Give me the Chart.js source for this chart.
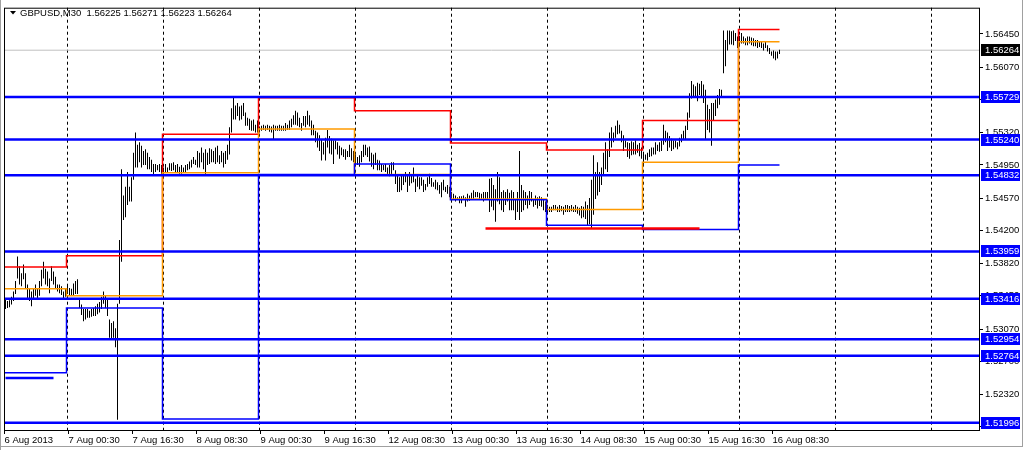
<!DOCTYPE html>
<html><head><meta charset="utf-8">
<script src="https://cdn.jsdelivr.net/npm/chart.js@4.4.1/dist/chart.umd.min.js"></script>
<style>html,body{margin:0;padding:0;background:#fff;}canvas{display:block;}</style>
</head><body>
<canvas id="c" width="1024" height="450"></canvas>
<script>
// ---------- DATA ----------
const symbolTitle = 'GBPUSD,M30';
const lastOHLC = ['1.56225', '1.56271', '1.56223', '1.56264'];
const currentPrice = 1.56264;

// M30 bar highs / lows, one array per trading day (6 Aug .. 16 Aug 2013)
const hi0 = [1.5341,1.5339,1.5340,1.5344,1.5350,1.5362,1.5390,1.5379,1.5371,1.5381,1.5371,1.5358,1.5354,1.5350,1.5354,1.5358,1.5354,1.5362,1.5375,1.5384,1.5376,1.5373,1.5365,1.5379,1.5373,1.5367,1.5358,1.5358,1.5356,1.5350,1.5353];
const lo0 = [1.5330,1.5331,1.5332,1.5335,1.5339,1.5347,1.5365,1.5358,1.5356,1.5364,1.5354,1.5342,1.5339,1.5333,1.5341,1.5345,1.5342,1.5345,1.5356,1.5365,1.5358,1.5356,1.5348,1.5362,1.5358,1.5353,1.5350,1.5348,1.5346,1.5341,1.5344];
const hi1 = [1.5358,1.5354,1.5353,1.5359,1.5362,1.5364,1.5341,1.5335,1.5330,1.5330,1.5330,1.5328,1.5330,1.5331,1.5333,1.5336,1.5338,1.5344,1.5350,1.5345,1.5341,1.5318,1.5314,1.5316,1.5308,1.5336,1.5409,1.5490,1.5460,1.5470,1.5487,1.5470,1.5481,1.5509,1.5532,1.5518,1.5521,1.5517,1.5511,1.5513,1.5509,1.5504,1.5501,1.5496,1.5496,1.5495,1.5496,1.5495];
const lo1 = [1.5347,1.5345,1.5346,1.5345,1.5347,1.5347,1.5331,1.5323,1.5316,1.5318,1.5320,1.5320,1.5321,1.5322,1.5322,1.5324,1.5326,1.5330,1.5336,1.5331,1.5322,1.5297,1.5296,1.5297,1.5286,1.5203,1.5336,1.5384,1.5432,1.5435,1.5449,1.5453,1.5453,1.5478,1.5492,1.5492,1.5498,1.5492,1.5495,1.5495,1.5490,1.5490,1.5487,1.5484,1.5487,1.5489,1.5487,1.5485];
const hi2 = [1.5492,1.5496,1.5492,1.5497,1.5497,1.5498,1.5495,1.5496,1.5493,1.5495,1.5492,1.5495,1.5496,1.5499,1.5501,1.5504,1.5501,1.5511,1.5509,1.5515,1.5509,1.5513,1.5509,1.5514,1.5513,1.5511,1.5515,1.5517,1.5506,1.5511,1.5509,1.5511,1.5518,1.5538,1.5560,1.5572,1.5563,1.5566,1.5562,1.5563,1.5566,1.5555,1.5549,1.5548,1.5546,1.5547,1.5541,1.5546];
const lo2 = [1.5484,1.5487,1.5487,1.5489,1.5488,1.5489,1.5487,1.5487,1.5485,1.5485,1.5487,1.5487,1.5489,1.5490,1.5492,1.5496,1.5495,1.5492,1.5492,1.5498,1.5490,1.5484,1.5495,1.5496,1.5498,1.5498,1.5496,1.5498,1.5496,1.5498,1.5492,1.5496,1.5501,1.5507,1.5532,1.5547,1.5547,1.5551,1.5546,1.5547,1.5551,1.5540,1.5540,1.5535,1.5534,1.5534,1.5532,1.5532];
const hi3 = [1.5539,1.5540,1.5541,1.5540,1.5541,1.5540,1.5539,1.5541,1.5540,1.5540,1.5541,1.5540,1.5540,1.5543,1.5541,1.5546,1.5548,1.5552,1.5557,1.5555,1.5549,1.5543,1.5551,1.5551,1.5557,1.5552,1.5546,1.5541,1.5534,1.5532,1.5529,1.5524,1.5521,1.5526,1.5535,1.5528,1.5525,1.5523,1.5523,1.5521,1.5517,1.5515,1.5513,1.5513,1.5511,1.5518,1.5514,1.5511];
const lo3 = [1.5532,1.5534,1.5535,1.5534,1.5535,1.5533,1.5532,1.5524,1.5534,1.5534,1.5534,1.5534,1.5534,1.5534,1.5535,1.5535,1.5538,1.5541,1.5541,1.5540,1.5538,1.5534,1.5540,1.5538,1.5541,1.5539,1.5529,1.5529,1.5521,1.5515,1.5511,1.5500,1.5507,1.5500,1.5515,1.5508,1.5507,1.5496,1.5513,1.5507,1.5502,1.5506,1.5504,1.5501,1.5504,1.5504,1.5500,1.5498];
const hi4 = [1.5507,1.5504,1.5506,1.5511,1.5518,1.5518,1.5515,1.5516,1.5509,1.5507,1.5509,1.5501,1.5500,1.5496,1.5495,1.5496,1.5492,1.5495,1.5498,1.5498,1.5489,1.5484,1.5481,1.5484,1.5483,1.5487,1.5484,1.5487,1.5484,1.5492,1.5479,1.5483,1.5481,1.5481,1.5478,1.5473,1.5481,1.5485,1.5480,1.5475,1.5478,1.5475,1.5472,1.5475,1.5478,1.5470,1.5472,1.5470];
const lo4 = [1.5496,1.5495,1.5493,1.5498,1.5504,1.5506,1.5504,1.5499,1.5493,1.5490,1.5495,1.5489,1.5489,1.5487,1.5489,1.5487,1.5483,1.5482,1.5484,1.5489,1.5473,1.5464,1.5464,1.5466,1.5472,1.5475,1.5464,1.5471,1.5474,1.5475,1.5464,1.5470,1.5467,1.5471,1.5464,1.5466,1.5470,1.5473,1.5470,1.5470,1.5467,1.5466,1.5462,1.5458,1.5466,1.5464,1.5462,1.5458];
const hi5 = [1.5464,1.5462,1.5460,1.5458,1.5459,1.5459,1.5460,1.5458,1.5462,1.5460,1.5463,1.5466,1.5464,1.5464,1.5463,1.5462,1.5464,1.5464,1.5464,1.5479,1.5480,1.5472,1.5467,1.5487,1.5481,1.5464,1.5466,1.5464,1.5467,1.5463,1.5466,1.5464,1.5456,1.5464,1.5511,1.5472,1.5466,1.5464,1.5460,1.5465,1.5464,1.5456,1.5460,1.5458,1.5459,1.5458,1.5456,1.5453];
const lo5 = [1.5456,1.5456,1.5453,1.5455,1.5451,1.5451,1.5455,1.5447,1.5453,1.5454,1.5456,1.5456,1.5458,1.5458,1.5456,1.5456,1.5453,1.5456,1.5456,1.5441,1.5447,1.5443,1.5430,1.5453,1.5450,1.5443,1.5441,1.5449,1.5453,1.5443,1.5443,1.5443,1.5432,1.5441,1.5432,1.5441,1.5443,1.5449,1.5445,1.5449,1.5453,1.5447,1.5449,1.5445,1.5448,1.5447,1.5443,1.5441];
const hi6 = [1.5449,1.5447,1.5447,1.5449,1.5449,1.5447,1.5449,1.5448,1.5447,1.5449,1.5449,1.5448,1.5449,1.5447,1.5449,1.5447,1.5446,1.5448,1.5447,1.5453,1.5449,1.5457,1.5478,1.5506,1.5487,1.5498,1.5487,1.5492,1.5509,1.5521,1.5513,1.5532,1.5538,1.5532,1.5540,1.5546,1.5541,1.5534,1.5529,1.5523,1.5521,1.5520,1.5522,1.5521,1.5523,1.5518,1.5520,1.5515];
const lo6 = [1.5441,1.5441,1.5441,1.5443,1.5443,1.5441,1.5441,1.5442,1.5438,1.5441,1.5441,1.5441,1.5442,1.5441,1.5441,1.5439,1.5437,1.5434,1.5435,1.5433,1.5426,1.5427,1.5422,1.5438,1.5456,1.5460,1.5464,1.5472,1.5483,1.5490,1.5487,1.5504,1.5515,1.5521,1.5526,1.5530,1.5531,1.5521,1.5511,1.5515,1.5504,1.5502,1.5506,1.5507,1.5507,1.5509,1.5505,1.5502];
const hi7 = [1.5509,1.5507,1.5509,1.5513,1.5515,1.5515,1.5521,1.5518,1.5521,1.5523,1.5541,1.5534,1.5532,1.5528,1.5525,1.5523,1.5523,1.5521,1.5526,1.5530,1.5534,1.5540,1.5555,1.5577,1.5591,1.5587,1.5585,1.5589,1.5588,1.5591,1.5587,1.5581,1.5564,1.5559,1.5566,1.5566,1.5570,1.5575,1.5582,1.5581,1.5649,1.5638,1.5649,1.5649,1.5648,1.5649,1.5646,1.5642];
const lo7 = [1.5496,1.5501,1.5500,1.5504,1.5505,1.5507,1.5507,1.5511,1.5510,1.5511,1.5518,1.5521,1.5511,1.5515,1.5511,1.5513,1.5515,1.5513,1.5516,1.5521,1.5524,1.5524,1.5535,1.5549,1.5571,1.5572,1.5574,1.5568,1.5575,1.5572,1.5566,1.5524,1.5535,1.5532,1.5517,1.5546,1.5551,1.5560,1.5564,1.5572,1.5600,1.5608,1.5626,1.5633,1.5633,1.5632,1.5637,1.5629];
const hi8 = [1.5643,1.5646,1.5642,1.5640,1.5642,1.5642,1.5641,1.5640,1.5638,1.5638,1.5637,1.5637,1.5634,1.5637,1.5632,1.5629,1.5625,1.5626,1.5625,1.5625,1.5627];
const lo8 = [1.5632,1.5634,1.5634,1.5632,1.5632,1.5634,1.5632,1.5631,1.5631,1.5629,1.5630,1.5629,1.5626,1.5629,1.5625,1.5622,1.5620,1.5617,1.5615,1.5617,1.5622];

// previous-day high / close / low lines (one value per day)
const prevDayHigh  = [1.5378, 1.5391, 1.5530, 1.5572, 1.5557, 1.5520, 1.5512, 1.5546, 1.5650];
const prevDayClose = [1.5353, 1.5345, 1.5486, 1.5536, 1.5484, 1.5456, 1.5444, 1.5498, 1.5636];
const prevDayLow   = [1.5257, 1.5331, 1.5204, 1.5484, 1.5496, 1.5455, 1.5426, 1.5421, 1.5495];

// horizontal levels (thick blue) and their labels
const levelValues = [1.55729, 1.55240, 1.54832, 1.53959, 1.53416, 1.52954, 1.52764, 1.51996];
const levelLabels = ['1.55729', '1.55240', '1.54832', '1.53959', '1.53416', '1.52954', '1.52764', '1.51996'];
// short segments: [price, fromBar, toBar]
const shortBlueLevel = [1.52508, 0, 24];
const shortRedLevel  = [1.54222, 240, 347];

// axis ticks
const yTickLabels = ['1.56450','1.56070','1.55700','1.55320','1.54950','1.54570','1.54200','1.53820','1.53450','1.53070','1.52700','1.52320','1.51950'];
const xTickLabels = ['6 Aug 2013','7 Aug 00:30','7 Aug 16:30','8 Aug 08:30','9 Aug 00:30','9 Aug 16:30','12 Aug 08:30','13 Aug 00:30','13 Aug 16:30','14 Aug 08:30','15 Aug 00:30','15 Aug 16:30','16 Aug 08:30'];
const xTickBars = [-0.5, 31.5, 63.5, 95.5, 127.5, 159.5, 191.5, 223.5, 255.5, 287.5, 319.5, 351.5, 383.5];
const dayGridBars = [31, 79, 127, 175, 223, 271, 319, 367, 415, 463];

// ---------- BUILD ----------
const dayHi = [hi0, hi1, hi2, hi3, hi4, hi5, hi6, hi7, hi8];
const dayLo = [lo0, lo1, lo2, lo3, lo4, lo5, lo6, lo7, lo8];
const highs = [].concat(...dayHi);
const lows = [].concat(...dayLo);
const dayStarts = [];
{ let acc = 0; dayHi.forEach(d => { dayStarts.push(acc); acc += d.length; }); }
const N = highs.length;
const X_MIN = -0.75, X_MAX = 486.75;

function stepPoints(vals) {
  const pts = vals.map((v, d) => ({ x: dayStarts[d] - 0.5, y: v }));
  pts.push({ x: N - 1, y: vals[vals.length - 1] });
  return pts;
}
function hLine(v, x0, x1) { return [{ x: x0, y: v }, { x: x1, y: v }]; }

const FONT = '"Liberation Sans", Arial, sans-serif';
Chart.defaults.font.family = FONT;
Chart.defaults.font.size = 9.5;
Chart.defaults.color = '#000';

const datasets = [];
datasets.push({
  type: 'bar', label: 'bars',
  data: highs.map((h, i) => ({ x: i, y: [lows[i], h] })),
  backgroundColor: '#000', borderWidth: 0, barThickness: 1, inflateAmount: 0, order: 10
});
datasets.push({ type: 'line', data: hLine(currentPrice, X_MIN, X_MAX), borderColor: '#C0C0C0', borderWidth: 1, pointRadius: 0, order: 20 });
const stepCommon = { type: 'line', stepped: 'before', pointRadius: 0, borderWidth: 1.5, fill: false, order: 5 };
datasets.push(Object.assign({}, stepCommon, { data: stepPoints(prevDayLow), borderColor: '#0000FF' }));
datasets.push(Object.assign({}, stepCommon, { data: stepPoints(prevDayClose), borderColor: '#FF9A00' }));
datasets.push(Object.assign({}, stepCommon, { data: stepPoints(prevDayHigh), borderColor: '#FF0000' }));
levelValues.forEach(v => datasets.push({ type: 'line', data: hLine(v, X_MIN, X_MAX), borderColor: '#0000FF', borderWidth: 2.5, pointRadius: 0, order: 1 }));
datasets.push({ type: 'line', data: hLine(shortBlueLevel[0], shortBlueLevel[1], shortBlueLevel[2]), borderColor: '#0000FF', borderWidth: 2.5, pointRadius: 0, order: 2 });
datasets.push({ type: 'line', data: hLine(shortRedLevel[0], shortRedLevel[1], shortRedLevel[2]), borderColor: '#FF0000', borderWidth: 2.5, pointRadius: 0, order: 2 });

const overlay = {
  id: 'overlay',
  afterDraw(chart) {
    const ctx = chart.ctx, a = chart.chartArea, ys = chart.scales.y;
    ctx.save();
    // window frame
    ctx.fillStyle = '#A0A0A0';
    ctx.fillRect(0, 0, 1, 450);
    ctx.fillRect(1022, 0, 1, 447);
    ctx.fillRect(0, 446, 1023, 1);
    // plot border
    ctx.strokeStyle = '#000'; ctx.lineWidth = 1;
    ctx.strokeRect(a.left + 0.5, a.top + 0.5, a.right - a.left, a.bottom - a.top);
    // price boxes
    ctx.font = '9.5px ' + FONT; ctx.textBaseline = 'middle'; ctx.textAlign = 'left';
    const box = (v, txt, bg) => {
      const y = Math.round(ys.getPixelForValue(v));
      ctx.fillStyle = bg; ctx.fillRect(a.right + 2, y - 6, 39, 12);
      ctx.fillStyle = '#fff'; ctx.fillText(txt, a.right + 6, y + 0.5);
    };
    levelValues.forEach((v, i) => box(v, levelLabels[i], '#0000FF'));
    box(currentPrice, lastOHLC[3], '#000');
    // header
    ctx.fillStyle = '#000';
    ctx.beginPath(); ctx.moveTo(10, 11); ctx.lineTo(16, 11); ctx.lineTo(13, 14.5); ctx.closePath(); ctx.fill();
    ctx.fillText(symbolTitle + '  ' + lastOHLC.join(' '), 20, 13);
    ctx.restore();
  }
};

new Chart(document.getElementById('c'), {
  type: 'bar',
  data: { datasets },
  plugins: [overlay],
  options: {
    responsive: false, animation: false, events: [],
    layout: { padding: { left: 4, top: 4, right: 0, bottom: 0 } },
    plugins: { legend: { display: false }, tooltip: { enabled: false } },
    scales: {
      x: {
        type: 'linear', position: 'bottom', min: X_MIN, max: X_MAX, offset: false,
        afterBuildTicks: s => { s.ticks = xTickBars.map(v => ({ value: v })); },
        afterFit: s => { s.height = 20; },
        ticks: { autoSkip: false, maxRotation: 0, minRotation: 0, align: 'start', padding: 1, color: '#000',
                 font: { size: 9.5 }, callback: (v, i) => xTickLabels[i] },
        grid: { offset: false, drawOnChartArea: false, drawTicks: true, tickLength: 4, color: '#000' },
        border: { display: false }
      },
      xg: {
        type: 'linear', position: 'bottom', min: X_MIN, max: X_MAX, offset: false,
        afterBuildTicks: s => { s.ticks = dayGridBars.map(v => ({ value: v })); },
        afterFit: s => { s.height = 0; },
        ticks: { display: false },
        grid: { offset: false, drawOnChartArea: true, drawTicks: false, color: '#000', lineWidth: 1 },
        border: { display: false, dash: [3, 3] }
      },
      y: {
        type: 'linear', position: 'right', min: 1.51913, max: 1.56751, beginAtZero: false,
        afterBuildTicks: s => { s.ticks = yTickLabels.map(t => ({ value: parseFloat(t) })); },
        afterFit: s => { s.width = 45; },
        ticks: { padding: 2, color: '#000', font: { size: 9.5 }, callback: (v, i) => yTickLabels[i] },
        grid: { drawOnChartArea: false, drawTicks: true, tickLength: 4, color: '#000' },
        border: { display: false }
      }
    }
  }
});
</script>
</body></html>
